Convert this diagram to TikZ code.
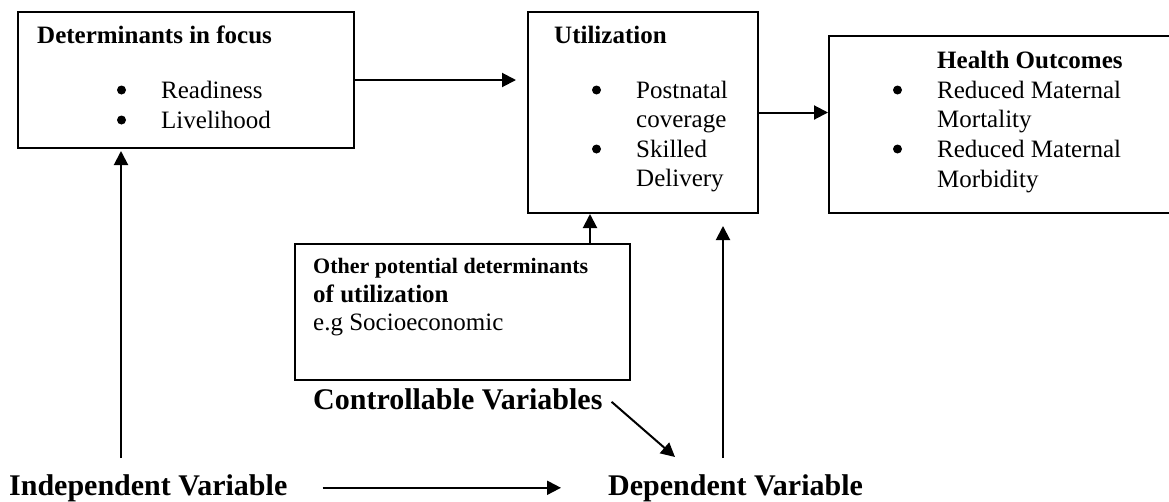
\documentclass[tikz,border=0pt]{standalone}
\usepackage{fontspec}
\setmainfont{Liberation Serif}
\usetikzlibrary{arrows.meta}

\tikzset{
    box/.style={draw, line width=2pt, anchor=north west, inner sep=0pt},
    txt/.style={anchor=base west, inner sep=0pt, font=\fontsize{25}{30}\selectfont},
    hd/.style={txt, font=\fontsize{25}{30}\selectfont\bfseries},
    var/.style={anchor=base west, inner sep=0pt, font=\fontsize{30}{36}\selectfont\bfseries},
    dot/.style={circle, fill, inner sep=0pt, minimum size=9pt},
    arr/.style={line width=2pt, -{Triangle[length=14pt,width=14pt]}}
}

\begin{document}
\begin{tikzpicture}[x=1pt,y=-1pt]
    \useasboundingbox (0,0) rectangle (1169,501);
    \clip (0,0) rectangle (1169,501);
    % boxes
    \node[box, minimum width=336pt, minimum height=136pt] (det) at (17,11) {};
    \node[box, minimum width=230pt, minimum height=201pt] (util) at (527,11) {};
    \node[box, minimum width=350pt, minimum height=177pt] (health) at (828,35) {};
    \node[box, minimum width=335pt, minimum height=136pt] (other) at (294,243) {};
    % determinants in focus
    \node[hd] (dethd) at (37,43) {Determinants in focus};
    \foreach \y/\t in {98/Readiness, 128/Livelihood} {
        \node[dot] (detb\y) at (121.5,\y-8) {};
        \node[txt] (deti\y) at (161,\y) {\t};
    }
    % utilization
    \node[hd] (utilhd) at (554,43) {Utilization};
    \foreach \y in {98, 157}
        \node[dot] (utilb\y) at (596.5,\y-8) {};
    \foreach \y/\t in {98/Postnatal, 127/coverage, 157/Skilled, 186/Delivery}
        \node[txt] (utili\y) at (636,\y) {\t};
    % health outcomes
    \node[hd] (healthhd) at (937,68) {Health Outcomes};
    \foreach \y in {98, 157}
        \node[dot] (healthb\y) at (897.5,\y-8) {};
    \foreach \y/\t in {98/Reduced Maternal, 127/Mortality, 157/Reduced Maternal, 187/Morbidity}
        \node[txt] (healthi\y) at (937,\y) {\t};
    % other determinants
    \node[txt, font=\fontsize{22}{26}\selectfont\bfseries] (otherhd) at (313,273) {Other potential determinants};
    \node[hd] (otherhdb) at (313,302) {of utilization};
    \node[txt] (otheri) at (313,330) {e.g Socioeconomic};
    % variables
    \node[var] (ctrl) at (313,409) {Controllable Variables};
    \node[var] (indep) at (9,495) {Independent Variable};
    \node[var] (dep) at (608,495) {Dependent Variable};
    \coordinate (itop) at (121,458);
    \coordinate (dtop) at (723,458);
    \coordinate (dtip) at (675,457);
    % arrows
    \draw[arr] (det.east) -- ([xshift=-11pt]util.west |- det.east);
    \draw[arr] (util.east) -- (util.east -| health.west);
    \draw[arr] ([xshift=127.5pt]other.north) -- ([xshift=127.5pt]other.north |- util.south);
    \draw[arr] (itop) -- ([yshift=-2pt]itop |- det.south);
    \draw[arr] (dtop) -- ([yshift=-12pt]dtop |- util.south);
    \draw[arr] ([xshift=35pt]indep.east) -- ([xshift=-47pt]dep.west |- indep.east);
    \draw[arr] ([xshift=9pt,yshift=-3pt]ctrl.east) -- (dtip);
\end{tikzpicture}
\end{document}
